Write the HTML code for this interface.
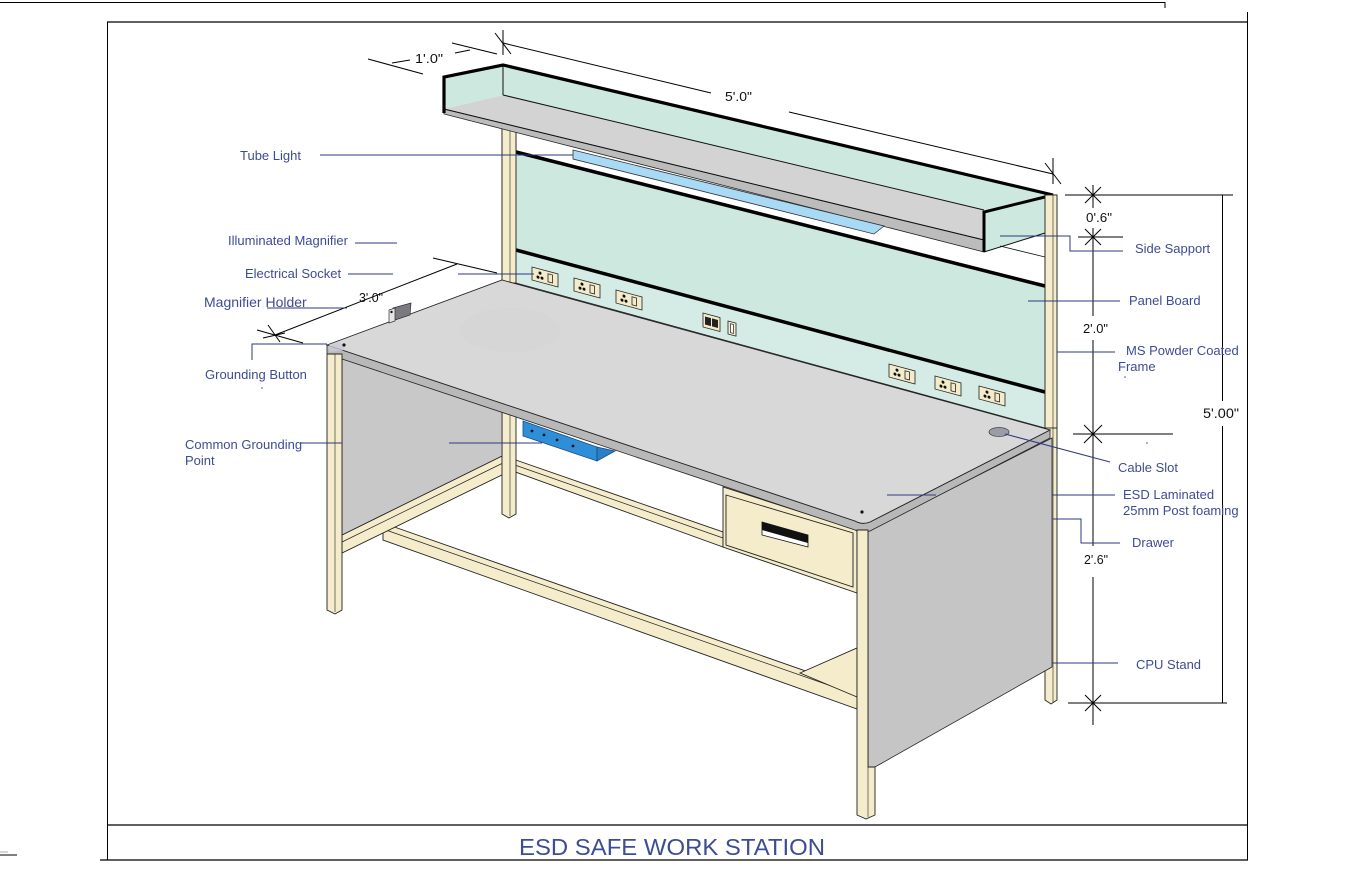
<!DOCTYPE html>
<html><head><meta charset="utf-8"><style>
html,body{margin:0;padding:0;background:#fff;}
svg{display:block;}
.lb{font-family:"Liberation Sans",Arial,sans-serif;font-size:13px;fill:#3d4c94;}
.dm{font-family:"Liberation Sans",Arial,sans-serif;font-size:13px;fill:#111;}
.ld{stroke:#2b3a80;stroke-width:1;fill:none;}
.k{stroke:#000;stroke-width:1;fill:none;}
.cr{fill:#f4ecca;stroke:#222;stroke-width:0.9;}
</style></head><body>
<svg width="1360" height="884" viewBox="0 0 1360 884" xmlns="http://www.w3.org/2000/svg">
<rect width="1360" height="884" fill="#fff"/>
<!-- frame -->
<line x1="0" y1="2.5" x2="1165" y2="2.5" class="k"/>
<line x1="1165" y1="2" x2="1165" y2="8" class="k"/>
<line x1="107" y1="22" x2="1248" y2="22" stroke="#000" stroke-width="1.3"/>
<line x1="107.5" y1="22" x2="107.5" y2="860" class="k"/>
<line x1="1247.5" y1="12" x2="1247.5" y2="860" class="k"/>
<line x1="107" y1="825" x2="1248" y2="825" stroke="#000" stroke-width="1.3"/>
<line x1="100" y1="860" x2="1248" y2="860" stroke="#000" stroke-width="1.3"/>
<line x1="0" y1="855" x2="17" y2="855" class="k"/>
<line x1="0" y1="852" x2="8" y2="852" stroke="#888" stroke-width="0.7"/>

<!-- lower rails -->
<polygon class="cr" points="510,458 723,532 723,547 510,470"/>
<line x1="512" y1="464" x2="723" y2="538" stroke="#222" stroke-width="0.7"/>
<polygon class="cr" points="383,523 857,689 857,709 383,540"/>
<line x1="383" y1="529" x2="857" y2="695" stroke="#222" stroke-width="0.7"/>
<polygon class="cr" points="800,673 857,648 857,697"/>
<polygon class="cr" points="342,535 502,456 512,462 512,470 342,553"/>
<line x1="342" y1="542" x2="505" y2="462" stroke="#222" stroke-width="0.7"/>

<!-- back legs / posts -->
<polygon class="cr" points="502,113 516,113 516,514 509,518 502,514"/>
<line x1="510" y1="113" x2="510" y2="516" stroke="#222" stroke-width="0.6"/>
<polygon class="cr" points="1045,195 1057,195 1057,700 1051,704 1045,700"/>
<line x1="1053" y1="195" x2="1053" y2="702" stroke="#222" stroke-width="0.6"/>

<!-- panel board -->
<polygon points="516,152 1045,286 1045,428 516,283" fill="#cde8df"/>
<polygon points="516,250 1045,392 1045,428 516,283" fill="#d4ece5"/>
<line x1="516" y1="152" x2="1045" y2="286" stroke="#000" stroke-width="3.5"/>
<line x1="516" y1="250" x2="1045" y2="392" stroke="#000" stroke-width="3.5"/>
<line x1="516" y1="283" x2="1045" y2="428" stroke="#222" stroke-width="0.9"/>
<rect x="502" y="113" width="14" height="170" class="cr"/>
<line x1="510" y1="113" x2="510" y2="283" stroke="#222" stroke-width="0.6"/>

<!-- hood -->
<polygon points="503,65 1053,195 1053,226 503,95" fill="#cde8df"/>
<polygon points="444,109 503,95 1053,226 984,240" fill="#d3d3d3"/>
<polygon points="444,109 984,240 984,252 444,114" fill="#bcbcbc" stroke="#222" stroke-width="0.8"/>
<polygon points="444,77 503,65 503,95 444,109" fill="#cde8df"/>
<polygon points="984,212 1053,195 1053,232 984,252" fill="#cde8df"/>
<line x1="503" y1="65" x2="503" y2="95" stroke="#111" stroke-width="1"/>
<line x1="503" y1="95" x2="984" y2="210" stroke="#111" stroke-width="1"/>
<line x1="444" y1="109" x2="984" y2="240" stroke="#111" stroke-width="1"/>
<line x1="984" y1="252" x2="1045" y2="233" stroke="#111" stroke-width="1"/>
<line x1="1000" y1="246" x2="1045" y2="257" stroke="#111" stroke-width="0.8"/>
<polyline points="444,113 444,77 503,65 1053,195" fill="none" stroke="#000" stroke-width="3.2"/>
<polyline points="984,252 984,212 1053,195" fill="none" stroke="#000" stroke-width="3"/>
<!-- tube light -->
<polygon points="573,150 884,226 874,234 573,159" fill="#a8d9f5" stroke="#333" stroke-width="0.8"/>
<rect x="1045" y="195" width="12" height="233" class="cr"/>
<line x1="1053" y1="195" x2="1053" y2="428" stroke="#222" stroke-width="0.6"/>

<!-- left side panel -->
<polygon points="342,356 502,293 502,456 342,535" fill="#c8c8c8" stroke="#222" stroke-width="0.8"/>
<!-- right side panel -->
<polygon points="868,531 1052,438 1052,667 875,767 868,767" fill="#c5c5c5" stroke="#222" stroke-width="0.8"/>

<!-- drawer -->
<polygon class="cr" points="723,487 857,530 857,593 723,547"/>
<polygon class="cr" points="726,495 853,533 853,587 726,545"/>
<polygon points="762,522 808,535 808,547 762,535" fill="#fff" stroke="#111" stroke-width="0.8"/>
<polygon points="762,522 808,535 808,543 762,530" fill="#111"/>

<!-- tabletop -->
<path d="M327,345 L855,521 Q862,525 870,522 L1050,430 L1050,438 L870,531 Q862,534 855,530 L327,354 Z" fill="#b8b8b8" stroke="#222" stroke-width="0.8"/>
<path d="M327,345 L502,280 L1050,430 L870,522 Q862,525 855,521 Z" fill="#d8d8d8" stroke="#222" stroke-width="0.9"/>
<ellipse cx="510" cy="330" rx="50" ry="22" fill="#d4d4d4" opacity="0.5"/>
<polygon points="328,346 340,342 345,350 330,352" fill="#c9c9dc" opacity="0.8"/>

<!-- front legs -->
<polygon class="cr" points="327,354 342,354 342,610 335,614 327,610"/>
<line x1="335" y1="354" x2="335" y2="612" stroke="#222" stroke-width="0.6"/>
<polygon class="cr" points="857,530 868,530 868,767 875,767 875,815 866,819 857,815"/>
<line x1="868" y1="767" x2="868" y2="817" stroke="#222" stroke-width="0.6"/>

<!-- socket strip -->
<polygon points="523,421 597,447 597,461 523,436" fill="#2e8fd8" stroke="#1a4a80" stroke-width="0.8"/>
<polygon points="597,447 615,451 597,461" fill="#2a80c8" stroke="#1a4a80" stroke-width="0.8"/>
<g fill="#111"><circle cx="532" cy="431" r="1.4"/><circle cx="544" cy="435" r="1.4"/><circle cx="557" cy="440" r="1.4"/><circle cx="573" cy="446" r="1.4"/></g>

<!-- sockets -->
<defs>
<g id="sk"><rect x="0" y="0" width="26" height="13" fill="#f3ebca" stroke="#222" stroke-width="0.8"/><circle cx="8" cy="4" r="1.5" fill="#111"/><circle cx="6" cy="8.5" r="1.5" fill="#111"/><circle cx="10" cy="8.5" r="1.5" fill="#111"/><rect x="16" y="2.5" width="4.5" height="8" fill="#f3ebca" stroke="#222" stroke-width="0.8"/></g>
</defs>
<use href="#sk" transform="translate(532,267) skewY(15)"/>
<use href="#sk" transform="translate(574,278) skewY(15)"/>
<use href="#sk" transform="translate(616,290) skewY(15)"/>
<use href="#sk" transform="translate(889,364) skewY(15)"/>
<use href="#sk" transform="translate(935,376) skewY(15)"/>
<use href="#sk" transform="translate(979,386) skewY(15)"/>
<g transform="translate(703,313) skewY(15)"><rect width="17" height="14" fill="#f3ebca" stroke="#222" stroke-width="0.8"/><rect x="2" y="3" width="6" height="8" fill="#222"/><rect x="9" y="3" width="6" height="8" fill="#222"/></g>
<g transform="translate(728,321) skewY(15)"><rect width="8" height="13" fill="#f3ebca" stroke="#222" stroke-width="0.8"/><rect x="2.5" y="2" width="3" height="9" fill="#fff" stroke="#222" stroke-width="0.7"/></g>

<!-- cable slot, dots -->
<ellipse cx="999" cy="432" rx="10" ry="4.5" fill="#9c9ca8" stroke="#444" stroke-width="0.8"/>
<circle cx="344" cy="345" r="1.6" fill="#111"/>
<circle cx="862" cy="512" r="1.6" fill="#111"/>

<!-- magnifier holder -->
<polygon points="393,308 411,303 410,315 395,320" fill="#7a7a80" stroke="#333" stroke-width="0.7"/>
<polygon points="389,310 395,308 395,321 389,323" fill="#e4e4e4" stroke="#333" stroke-width="0.7"/>
<circle cx="391.5" cy="312" r="1.2" fill="#111"/>

<!-- top dimensions -->
<line x1="503" y1="43" x2="711" y2="93" class="k"/>
<line x1="789" y1="112" x2="1053" y2="174" class="k"/>
<line x1="503" y1="30" x2="503" y2="55" class="k"/>
<line x1="495" y1="33" x2="511" y2="54" class="k"/>
<line x1="1053" y1="158" x2="1053" y2="184" class="k"/>
<line x1="1045" y1="163" x2="1061" y2="184" class="k"/>
<line x1="452" y1="43" x2="497" y2="54" class="k"/>
<line x1="455" y1="53" x2="470" y2="50" class="k"/>
<line x1="368" y1="59" x2="423" y2="74" class="k"/>
<line x1="392" y1="63" x2="410" y2="60" class="k"/>
<text x="415" y="63" class="dm" textLength="28" lengthAdjust="spacingAndGlyphs">1'.0"</text>
<text x="725" y="101" class="dm" textLength="27" lengthAdjust="spacingAndGlyphs">5'.0"</text>

<!-- 3'.0 dimension -->
<line x1="433" y1="258" x2="497" y2="273" class="k"/>
<line x1="457" y1="264" x2="275" y2="335" class="k"/>
<line x1="257" y1="330" x2="303" y2="343" class="k"/>
<line x1="268" y1="325" x2="280" y2="342" class="k"/>
<line x1="263" y1="338" x2="285" y2="333" class="k"/>
<text x="359" y="302" class="dm" textLength="24" lengthAdjust="spacingAndGlyphs">3'.0"</text>

<!-- right dimensions -->
<line x1="1065" y1="195" x2="1233" y2="195" class="k"/>
<line x1="1078" y1="237" x2="1123" y2="237" class="k"/>
<line x1="1073" y1="434" x2="1173" y2="434" class="k"/>
<line x1="1068" y1="703" x2="1227" y2="703" class="k"/>
<line x1="1093" y1="185" x2="1093" y2="208" class="k"/>
<line x1="1093" y1="228" x2="1093" y2="316" class="k"/>
<line x1="1093" y1="340" x2="1093" y2="546" class="k"/>
<line x1="1093" y1="577" x2="1093" y2="725" class="k"/>
<line x1="1222.5" y1="195" x2="1222.5" y2="401" class="k"/>
<line x1="1222.5" y1="426" x2="1222.5" y2="703" class="k"/>
<g class="k">
<line x1="1085" y1="187" x2="1101" y2="203"/><line x1="1101" y1="187" x2="1085" y2="203"/>
<line x1="1085" y1="229" x2="1101" y2="245"/><line x1="1101" y1="229" x2="1085" y2="245"/>
<line x1="1084" y1="425" x2="1102" y2="443"/><line x1="1102" y1="425" x2="1084" y2="443"/>
<line x1="1085" y1="695" x2="1101" y2="711"/><line x1="1101" y1="695" x2="1085" y2="711"/>
</g>
<text x="1086" y="222" class="dm" textLength="26" lengthAdjust="spacingAndGlyphs">0'.6"</text>
<text x="1083" y="333" class="dm" textLength="25" lengthAdjust="spacingAndGlyphs">2'.0"</text>
<text x="1203" y="418" class="dm" style="font-size:14px" textLength="36" lengthAdjust="spacingAndGlyphs">5'.00"</text>
<text x="1084" y="564" class="dm" textLength="24" lengthAdjust="spacingAndGlyphs">2'.6"</text>

<!-- leaders -->
<line x1="320" y1="155" x2="573" y2="155" class="ld"/>
<line x1="355" y1="243" x2="397" y2="243" class="ld"/>
<line x1="348" y1="274" x2="393" y2="274" class="ld"/>
<line x1="458" y1="274" x2="534" y2="274" class="ld"/>
<line x1="267" y1="308" x2="347" y2="308" class="ld"/>
<polyline points="252,360 252,344 327,344" class="ld"/>
<line x1="300" y1="443" x2="342" y2="443" class="ld"/>
<line x1="449" y1="443" x2="542" y2="443" class="ld"/>
<polyline points="1000,236 1070,236 1070,251 1123,251" class="ld"/>
<line x1="1028" y1="301" x2="1120" y2="301" class="ld"/>
<line x1="1057" y1="352" x2="1115" y2="352" class="ld"/>
<line x1="1005" y1="434" x2="1110" y2="462" class="ld"/>
<line x1="887" y1="495" x2="936" y2="495" class="ld"/>
<line x1="1052" y1="495" x2="1115" y2="495" class="ld"/>
<polyline points="1053,519 1081,519 1081,543 1120,543" class="ld"/>
<line x1="1052" y1="663" x2="1118" y2="663" class="ld"/>

<!-- labels -->
<text x="240" y="160" class="lb">Tube Light</text>
<text x="228" y="245" class="lb">Illuminated Magnifier</text>
<text x="245" y="278" class="lb">Electrical Socket</text>
<text x="204" y="307" class="lb" style="font-size:14px">Magnifier Holder</text>
<text x="205" y="379" class="lb">Grounding Button</text>
<text x="185" y="449" class="lb">Common Grounding</text>
<text x="185" y="465" class="lb">Point</text>
<text x="1135" y="253" class="lb">Side Sapport</text>
<text x="1129" y="305" class="lb">Panel Board</text>
<text x="1126" y="355" class="lb">MS Powder Coated</text>
<text x="1118" y="371" class="lb">Frame</text>
<text x="1118" y="472" class="lb">Cable Slot</text>
<text x="1123" y="499" class="lb">ESD Laminated</text>
<text x="1123" y="515" class="lb">25mm Post foaming</text>
<text x="1132" y="547" class="lb">Drawer</text>
<text x="1136" y="669" class="lb">CPU Stand</text>
<circle cx="262" cy="388" r="0.8" fill="#555"/>
<circle cx="1125" cy="377" r="0.8" fill="#555"/>
<circle cx="1147" cy="443" r="0.8" fill="#555"/>

<text x="519" y="855" font-family="'Liberation Sans',Arial,sans-serif" font-size="23" fill="#3d4c94" textLength="306" lengthAdjust="spacingAndGlyphs">ESD SAFE WORK STATION</text>
</svg>
</body></html>
